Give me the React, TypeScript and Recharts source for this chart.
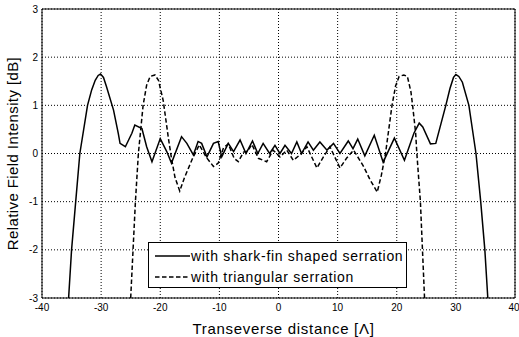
import React from 'react';
import { LineChart, Line, XAxis, YAxis, CartesianGrid, ReferenceArea, Legend } from 'recharts';

const xTicks = [-40, -30, -20, -10, 0, 10, 20, 30, 40];
const yTicks = [-3, -2, -1, 0, 1, 2, 3];
const seriesNames = ['with shark-fin shaped serration', 'with triangular serration'];

const sharkX = [
  -35.5, -35.0, -34.3, -33.6, -32.3, -31.6, -31.0, -30.5, -30.1, -29.6, -29.1, -27.9, -27.1, -26.8, -25.9,
  -24.8, -24.3, -23.1, -22.3, -21.4, -20.0, -18.9, -18.1, -16.4, -15.5, -14.4, -13.6, -13.0, -12.1, -11.0,
  -10.2, -9.6, -8.5, -7.6, -6.5, -5.5, -4.4, -3.5, -2.6, -1.5, -0.6, 0.25, 1.1, 2.2, 3.1, 3.9, 5.0, 5.9,
  7.0, 8.2, 9.3, 10.4, 11.8, 12.6, 13.4, 14.6, 16.2, 17.7, 19.6, 21.3, 22.9, 23.8, 24.4, 25.7, 26.6, 28.3,
  29.0, 29.6, 30.0, 30.5, 31.1, 32.2, 33.4, 34.2, 34.9, 35.4,
];
const sharkY = [
  -3.0, -2.0, -1.0, 0.0, 1.0, 1.32, 1.52, 1.62, 1.65, 1.58, 1.39, 0.9, 0.42, 0.21, 0.14,
  0.42, 0.59, 0.52, 0.14, -0.17, 0.31, 0.04, -0.2, 0.35, 0.21, -0.03, 0.25, 0.21, -0.07, 0.21,
  0.25, -0.07, 0.21, 0.04, 0.28, 0.0, 0.26, 0.0, 0.21, 0.0, 0.17, 0.0, 0.17, 0.0, 0.24, 0.0, 0.24, 0.07,
  0.24, 0.07, 0.21, 0.0, 0.26, 0.1, 0.3, -0.05, 0.38, -0.18, 0.32, -0.14, 0.42, 0.63, 0.55, 0.2, 0.21, 1.0,
  1.35, 1.58, 1.64, 1.6, 1.48, 1.0, 0.0, -1.0, -2.0, -3.0,
];

const triX = [
  -25.0, -24.6, -24.2, -23.7, -22.9, -22.3, -21.7, -20.9, -20.3, -19.5, -18.6, -18.1, -17.5, -16.7, -15.9,
  -14.6, -13.4, -12.2, -11.0, -10.2, -9.3, -8.5, -7.5, -6.8, -5.9, -5.2, -4.5, -3.4, -2.0, -0.9, 0.25, 1.4,
  2.5, 3.9, 4.8, 6.5, 7.6, 8.7, 10.4, 11.5, 12.7, 14.4, 15.5, 16.7, 17.4, 18.1, 19.2, 19.8, 20.4, 21.2,
  21.8, 22.4, 22.7, 23.2, 23.4, 24.0, 24.7,
];
const triY = [
  -3.0, -2.0, -1.0, 0.0, 1.0, 1.42, 1.6, 1.63, 1.52, 1.1, 0.3, -0.1, -0.5, -0.78, -0.5,
  -0.12, 0.18, -0.08, -0.27, -0.2, 0.12, 0.2, -0.1, -0.17, 0.03, 0.05, 0.19, -0.1, -0.17, 0.07, -0.07, 0.07,
  -0.14, 0.0, 0.14, -0.3, -0.07, 0.14, -0.3, -0.1, 0.07, -0.27, -0.55, -0.8, -0.45, 0.0, 1.0, 1.4, 1.6, 1.63,
  1.6, 1.28, 0.98, 0.42, 0.0, -1.0, -3.0,
];

const sharkData = sharkX.map((x, i) => ({ x, y: sharkY[i] }));
const triData = triX.map((x, i) => ({ x, y: triY[i] }));

const FONT = '"Liberation Sans", Arial, Helvetica, sans-serif';

const renderLegend = () => (
  <div
    style={{
      width: 259,
      height: 46,
      border: '1px solid #000',
      background: '#fff',
      boxSizing: 'border-box',
    }}
  >
    <svg width={257} height={44} style={{ display: 'block' }}>
      <line x1={6} x2={41} y1={13} y2={13} stroke="#000" strokeWidth={1.5} />
      <text x={42} y={13} dy="0.36em" fontFamily={FONT} fontSize={14} letterSpacing={0.7} fill="#000">
        {seriesNames[0]}
      </text>
      <line x1={6} x2={41} y1={34} y2={34} stroke="#000" strokeWidth={1.5} strokeDasharray="4.5 2.5" />
      <text x={42} y={34} dy="0.36em" fontFamily={FONT} fontSize={14} letterSpacing={0.7} fill="#000">
        {seriesNames[1]}
      </text>
    </svg>
  </div>
);

export default function App() {
  return (
    <div style={{ position: 'absolute', left: 0, top: 0, background: '#fff' }}>
      <LineChart width={519} height={337} margin={{ top: 9, right: 4, left: 0, bottom: 0 }}>
        <CartesianGrid stroke="#000" strokeDasharray="1 2" strokeWidth={1} />
        <XAxis
          dataKey="x"
          type="number"
          domain={[-40, 40]}
          ticks={xTicks}
          allowDataOverflow
          height={39}
          axisLine={false}
          tickLine={false}
          tickSize={0}
          tickMargin={6}
          tick={{ fontSize: 10, fill: '#000', fontFamily: FONT }}
          label={{
            value: 'Transeverse distance [Λ]',
            position: 'insideBottom',
            offset: 3,
            dx: 5,
            style: { fontSize: 15, fill: '#000', fontFamily: FONT, letterSpacing: 0.7 },
          }}
        />
        <YAxis
          type="number"
          domain={[-3, 3]}
          ticks={yTicks}
          allowDataOverflow
          width={42}
          axisLine={false}
          tickLine={false}
          tickSize={0}
          tickMargin={4}
          tick={{ fontSize: 10, fill: '#000', fontFamily: FONT }}
          label={{
            value: 'Relative Field Intensity [dB]',
            angle: -90,
            position: 'insideLeft',
            offset: 13,
            style: { fontSize: 15, fill: '#000', fontFamily: FONT, letterSpacing: 0.4, textAnchor: 'middle' },
          }}
        />
        <ReferenceArea x1={-40} x2={40} y1={-3} y2={3} fill="none" fillOpacity={0} stroke="#000" strokeWidth={1} ifOverflow="visible" />
        <Line
          data={sharkData}
          dataKey="y"
          name={seriesNames[0]}
          type="linear"
          stroke="#000"
          strokeWidth={1.5}
          dot={false}
          isAnimationActive={false}
        />
        <Line
          data={triData}
          dataKey="y"
          name={seriesNames[1]}
          type="linear"
          stroke="#000"
          strokeWidth={1.5}
          strokeDasharray="4.5 2.5"
          dot={false}
          isAnimationActive={false}
        />
        <Legend
          layout="vertical"
          align="center"
          verticalAlign="middle"
          wrapperStyle={{ left: 148, top: 242, width: 259, height: 46 }}
          content={renderLegend}
        />
      </LineChart>
    </div>
  );
}
